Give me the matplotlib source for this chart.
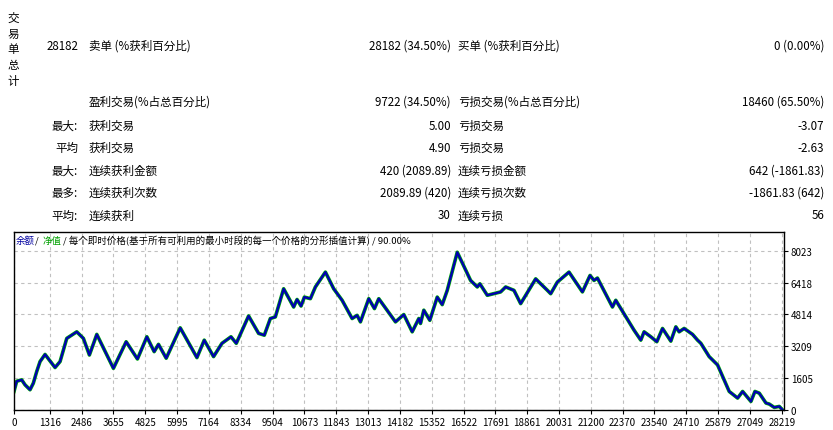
import matplotlib
matplotlib.use("Agg")
import matplotlib.pyplot as plt

plt.rcParams["font.family"] = ["Noto Sans CJK JP", "DejaVu Sans"]

trades = [0,99,283,405,589,710,835,957,1141,1509,1693,1939,2307,2550,2771,3043,3654,4122,4537,4883,
          5152,5310,5594,6109,6723,6992,7334,7643,7975,8170,8622,8990,9200,9421,9605,9910,10278,10403,
          10550,10672,10893,11077,11445,11750,12059,12427,12611,12733,13038,13248,13406,14021,14326,
          14635,14878,14941,15062,15283,15555,15739,15923,16291,16781,17027,17123,17395,17885,18069,
          18376,18621,19173,19357,19604,19725,19972,20398,20891,21171,21318,21443,21995,22117,22790,
          23037,23158,23405,23626,23835,24141,24325,24446,24630,24939,25123,25245,25550,25859,26286,
          26595,26779,27085,27232,27390,27637,27758,27942,28126,28250]
balance = [935,1450,1520,1270,1020,1350,1940,2440,2800,2140,2440,3610,3940,3610,2770,3810,2100,3440,
           2570,3690,2940,3310,2610,4140,2640,3520,2690,3360,3690,3360,4740,3860,3770,4610,4690,6110,
           5190,5570,5240,5690,5610,6200,6950,6110,5530,4610,4770,4440,5610,5110,5610,4440,4810,3940,
           4610,4360,5030,4520,5690,5310,6030,7950,6530,6200,6360,5780,5950,6200,6030,5360,6610,6360,
           6030,5860,6450,6950,5950,6780,6530,6650,5190,5530,4020,3520,3940,3690,3440,4110,3470,4190,
           3940,4110,3810,3520,3360,2690,2270,935,600,935,430,935,850,350,300,130,180,0]
xticks = [0,1316,2486,3655,4825,5995,7164,8334,9504,10673,11843,13013,14182,15352,16522,17691,
          18861,20031,21200,22370,23540,24710,25879,27049,28219]
yticks = [0,1605,3209,4814,6418,8023]

rows = [
    ("最大:", "获利交易", "5.00", "亏损交易", "-3.07"),
    ("平均", "获利交易", "4.90", "亏损交易", "-2.63"),
    ("最大:", "连续获利金额", "420 (2089.89)", "连续亏损金额", "642 (-1861.83)"),
    ("最多:", "连续获利次数", "2089.89 (420)", "连续亏损次数", "-1861.83 (642)"),
    ("平均:", "连续获利", "30", "连续亏损", "56"),
]

W, H = 833, 431
fig = plt.figure(figsize=(W/100, H/100), dpi=100)
fs = 8.3
def t(x, y, s, ha="left", size=fs, color="black"):
    fig.text(x/W, 1 - y/H, s, ha=ha, va="center", fontsize=size, color=color)

for i, ch in enumerate("交易单总计"):
    t(13, 18 + i*16, ch, ha="center")
t(47, 46, "28182")
t(89, 46, "卖单 (%获利百分比)")
t(451, 46, "28182 (34.50%)", ha="right")
t(458, 46, "买单 (%获利百分比)")
t(824, 46, "0 (0.00%)", ha="right")
t(89, 102, "盈利交易(%占总百分比)")
t(451, 102, "9722 (34.50%)", ha="right")
t(458, 102, "亏损交易(%占总百分比)")
t(824, 102, "18460 (65.50%)", ha="right")
for i, (a, b, c, d, e) in enumerate(rows):
    y = 126 + i*22.5
    t(78, y, a, ha="right")
    t(89, y, b)
    t(451, y, c, ha="right")
    t(458, y, d)
    t(824, y, e, ha="right")

ax = fig.add_axes([14/W, 20/H, 770/W, 178/H])
ax.plot(trades, balance, color="#00b000", lw=2.6)
ax.plot(trades, balance, color="#0000b0", lw=1.7)
ax.set_xlim(0, 28300)
ax.set_ylim(0, 8970)
ax.set_xticks(xticks)
ax.set_yticks(yticks)
ax.yaxis.tick_right()
ax.tick_params(labelsize=7, length=3, pad=2)
ax.grid(True, ls=(0, (3, 3)), color="#c0c0c0", lw=0.8)
for s in ax.spines.values():
    s.set_linewidth(1)

hs = 6.8
t(16, 241, "余额", size=hs, color="#0000a0")
t(35, 241, "/", size=hs)
t(43, 241, "净值", size=hs, color="#00a000")
t(63, 241, "/ 每个即时价格(基于所有可利用的最小时段的每一个价格的分形插值计算) / 90.00%", size=hs)
fig.savefig("out.png", dpi=100)
